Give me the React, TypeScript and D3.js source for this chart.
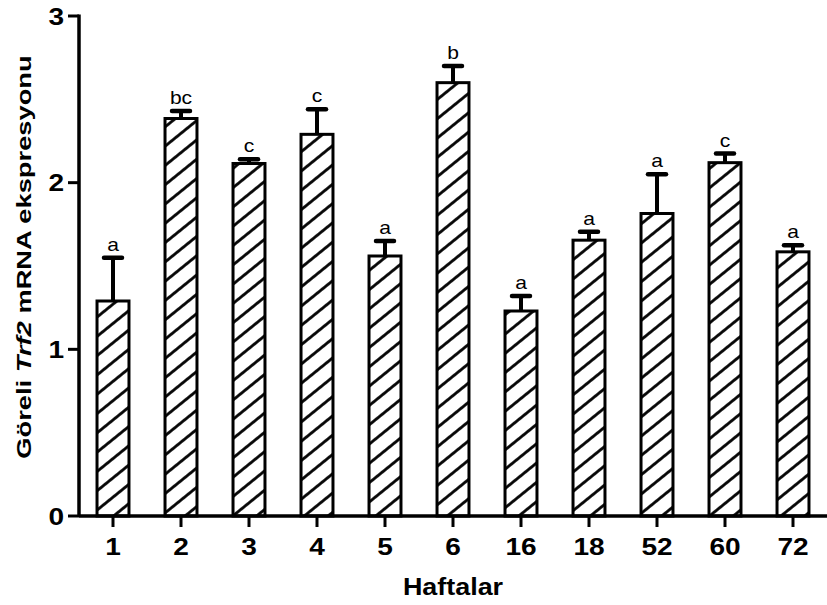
import React from "react";
import * as d3 from "d3";

const categories = ["1", "2", "3", "4", "5", "6", "16", "18", "52", "60", "72"];
const means = [1.29, 2.385, 2.115, 2.29, 1.56, 2.6, 1.23, 1.655, 1.815, 2.12, 1.585];
const sems = [0.26, 0.045, 0.025, 0.15, 0.09, 0.1, 0.09, 0.05, 0.235, 0.055, 0.04];
const letters = ["a", "bc", "c", "c", "a", "b", "a", "a", "a", "c", "a"];
const yTicks = [0, 1, 2, 3];

const W = 827;
const H = 605;
const left = 79;
const right = 827;
const top = 16;
const bottom = 516;
const FONT = "'Liberation Sans', Arial, Helvetica, sans-serif";
const SX = 1.17;

export default function App() {
  const x = d3
    .scaleBand<string>()
    .domain(categories)
    .range([left, right])
    .paddingInner(0.53)
    .paddingOuter(0.265);
  const y = d3.scaleLinear().domain([0, 3]).range([bottom, top]);
  const bw = x.bandwidth();

  return (
    <svg
      width={W}
      height={H}
      style={{ position: "absolute", left: 0, top: 0, background: "#fff" }}
      fontFamily={FONT}
    >
      <defs>
        <pattern
          id="hatch"
          patternUnits="userSpaceOnUse"
          width={10}
          height={15}
          patternTransform="rotate(-39)"
        >
          <rect width={10} height={15} fill="#fff" />
          <line x1={0} y1={7.5} x2={10} y2={7.5} stroke="#000" strokeWidth={2.8} />
        </pattern>
      </defs>

      {/* bars */}
      {categories.map((c, i) => {
        const x0 = x(c)!;
        const cx = x0 + bw / 2;
        const yTop = y(means[i]);
        const yCap = y(means[i] + sems[i]);
        return (
          <g key={c}>
            <line x1={cx} x2={cx} y1={yTop} y2={yCap} stroke="#000" strokeWidth={4} />
            <line
              x1={cx - 9}
              x2={cx + 9}
              y1={yCap}
              y2={yCap}
              stroke="#000"
              strokeWidth={4.5}
              strokeLinecap="round"
            />
            <rect
              x={x0}
              y={yTop}
              width={bw}
              height={bottom - yTop}
              fill="url(#hatch)"
              stroke="#000"
              strokeWidth={3}
            />
            <text
              transform={`translate(${cx},${yCap - 7}) scale(${SX},1)`}
              textAnchor="middle"
              fontSize={18}
              fill="#000"
            >
              {letters[i]}
            </text>
          </g>
        );
      })}

      {/* y axis */}
      <line x1={left} x2={left} y1={top - 1.5} y2={bottom} stroke="#000" strokeWidth={3.5} />
      {yTicks.map((t) => (
        <g key={t}>
          <line x1={left - 11} x2={left} y1={y(t)} y2={y(t)} stroke="#000" strokeWidth={3} />
          <text
            transform={`translate(${left - 15},${y(t) + 8.5}) scale(${SX},1)`}
            textAnchor="end"
            fontSize={24}
            fontWeight="bold"
            fill="#000"
          >
            {t}
          </text>
        </g>
      ))}

      {/* x axis */}
      <line x1={left} x2={right} y1={bottom} y2={bottom} stroke="#000" strokeWidth={3.5} />
      {categories.map((c) => {
        const cx = x(c)! + bw / 2;
        return (
          <g key={c}>
            <line x1={cx} x2={cx} y1={bottom} y2={bottom + 11} stroke="#000" strokeWidth={3} />
            <text
              transform={`translate(${cx},555) scale(${SX},1)`}
              textAnchor="middle"
              fontSize={24}
              fontWeight="bold"
              fill="#000"
            >
              {c}
            </text>
          </g>
        );
      })}

      <text
        transform={`translate(${(left + right) / 2},595) scale(${SX},1)`}
        textAnchor="middle"
        fontSize={23}
        fontWeight="bold"
        fill="#000"
      >
        Haftalar
      </text>

      <text
        transform={`translate(31,257) rotate(-90) scale(1.3,1)`}
        textAnchor="middle"
        fontSize={21}
        fontWeight="bold"
        fill="#000"
      >
        Göreli <tspan fontStyle="italic">Trf2</tspan> mRNA ekspresyonu
      </text>
    </svg>
  );
}
